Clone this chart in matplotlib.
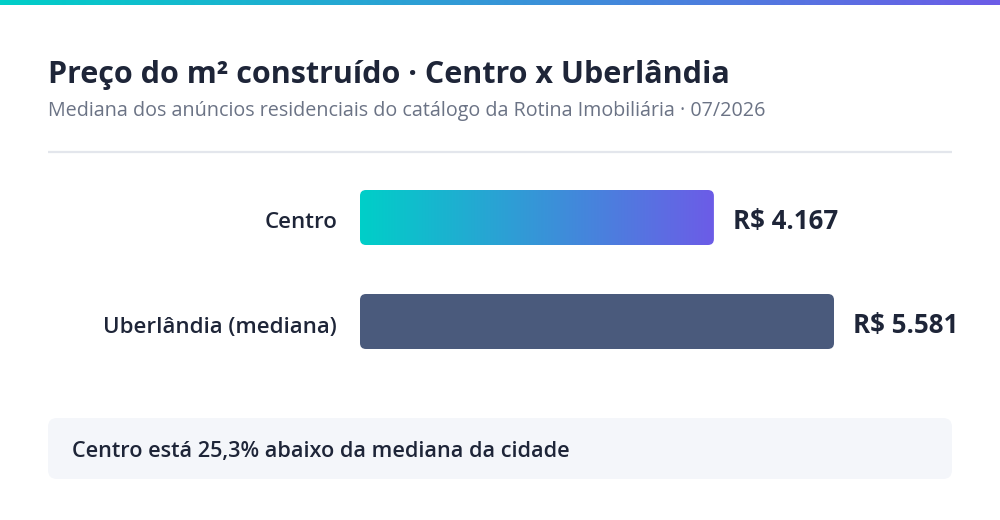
import numpy as np
import matplotlib
matplotlib.use("Agg")
import matplotlib.pyplot as plt
from matplotlib.patches import FancyBboxPatch
from matplotlib.colors import LinearSegmentedColormap

plt.rcParams["font.family"] = ["Open Sans", "DejaVu Sans"]

# --- data ---
categories = ["Centro", "Uberlândia (mediana)"]
values = [4167, 5581]
value_labels = ["R$ 4.167", "R$ 5.581"]
title = "Preço do m² construído · Centro x Uberlândia"
subtitle = "Mediana dos anúncios residenciais do catálogo da Rotina Imobiliária · 07/2026"
note = "Centro está 25,3% abaixo da mediana da cidade"

# --- style ---
DARK = "#1e2538"
GREY = "#6b7385"
BAR_DARK = "#4a5a7c"
grad = LinearSegmentedColormap.from_list("brand", ["#00cfc8", "#6c5ce7"])

W, H = 1000, 520
fig = plt.figure(figsize=(W / 100, H / 100), dpi=100)
fig.patch.set_facecolor("white")

# background canvas in pixel units
bg = fig.add_axes([0, 0, 1, 1])
bg.axis("off")

# top gradient strip
strip = np.linspace(0, 1, 256).reshape(1, -1)
bg.imshow(strip, cmap=grad, extent=[0, W, 5, 0], aspect="auto", zorder=1)
bg.set_xlim(0, W)
bg.set_ylim(H, 0)

bg.text(48, 82.5, title, fontsize=22, fontweight="bold", color=DARK, va="baseline", ha="left")
bg.text(48, 116, subtitle, fontsize=14.25, color=GREY, va="baseline", ha="left")
bg.plot([48, 952], [152, 152], color="#e3e6ec", lw=1.6, solid_capstyle="butt")

# footer note box
box = FancyBboxPatch((48, 418), 904, 61, boxstyle="round,pad=0,rounding_size=9",
                     fc="#f4f6fa", ec="none", zorder=1)
bg.add_patch(box)
bg.text(72, 456.7, note, fontsize=15.6, color=DARK, va="baseline", ha="left", fontweight="semibold")

# --- bar axes ---
x0_px, x1_px = 360, 834
yc = 269.5
half_h = 100
ax = fig.add_axes([x0_px / W, 1 - (yc + half_h) / H, (x1_px - x0_px) / W, 2 * half_h / H])
row_px = 104
ax.axis("off")
ax.patch.set_alpha(0)

bar_h = 55 / row_px
x_per_px = max(values) / (x1_px - x0_px)
y_per_px = 1 / row_px
radius_px = 6

for i, (cat, val, lab) in enumerate(zip(categories, values, value_labels)):
    patch = FancyBboxPatch((0, i - bar_h / 2), val, bar_h,
                           boxstyle=f"round,pad=0,rounding_size={radius_px * x_per_px}",
                           mutation_aspect=y_per_px / x_per_px,
                           fc=BAR_DARK if i == 1 else "none", ec="none", zorder=2)
    ax.add_patch(patch)
    if i == 0:
        im = ax.imshow(strip, cmap=grad, extent=[0, val, i + bar_h / 2, i - bar_h / 2],
                       aspect="auto", zorder=2)
        im.set_clip_path(patch)
    ax.annotate(cat, (0, i), xytext=(-23, -11), textcoords="offset pixels",
                ha="right", va="baseline", fontsize=16, color=DARK, fontweight="semibold")
    ax.annotate(lab, (val, i), xytext=(19, -11), textcoords="offset pixels",
                ha="left", va="baseline", fontsize=18.6, color=DARK, fontweight="bold")

ax.set_xlim(0, max(values))
ax.set_ylim(0.5 + half_h / row_px, 0.5 - half_h / row_px)

fig.savefig("out.png", dpi=100, facecolor="white")
